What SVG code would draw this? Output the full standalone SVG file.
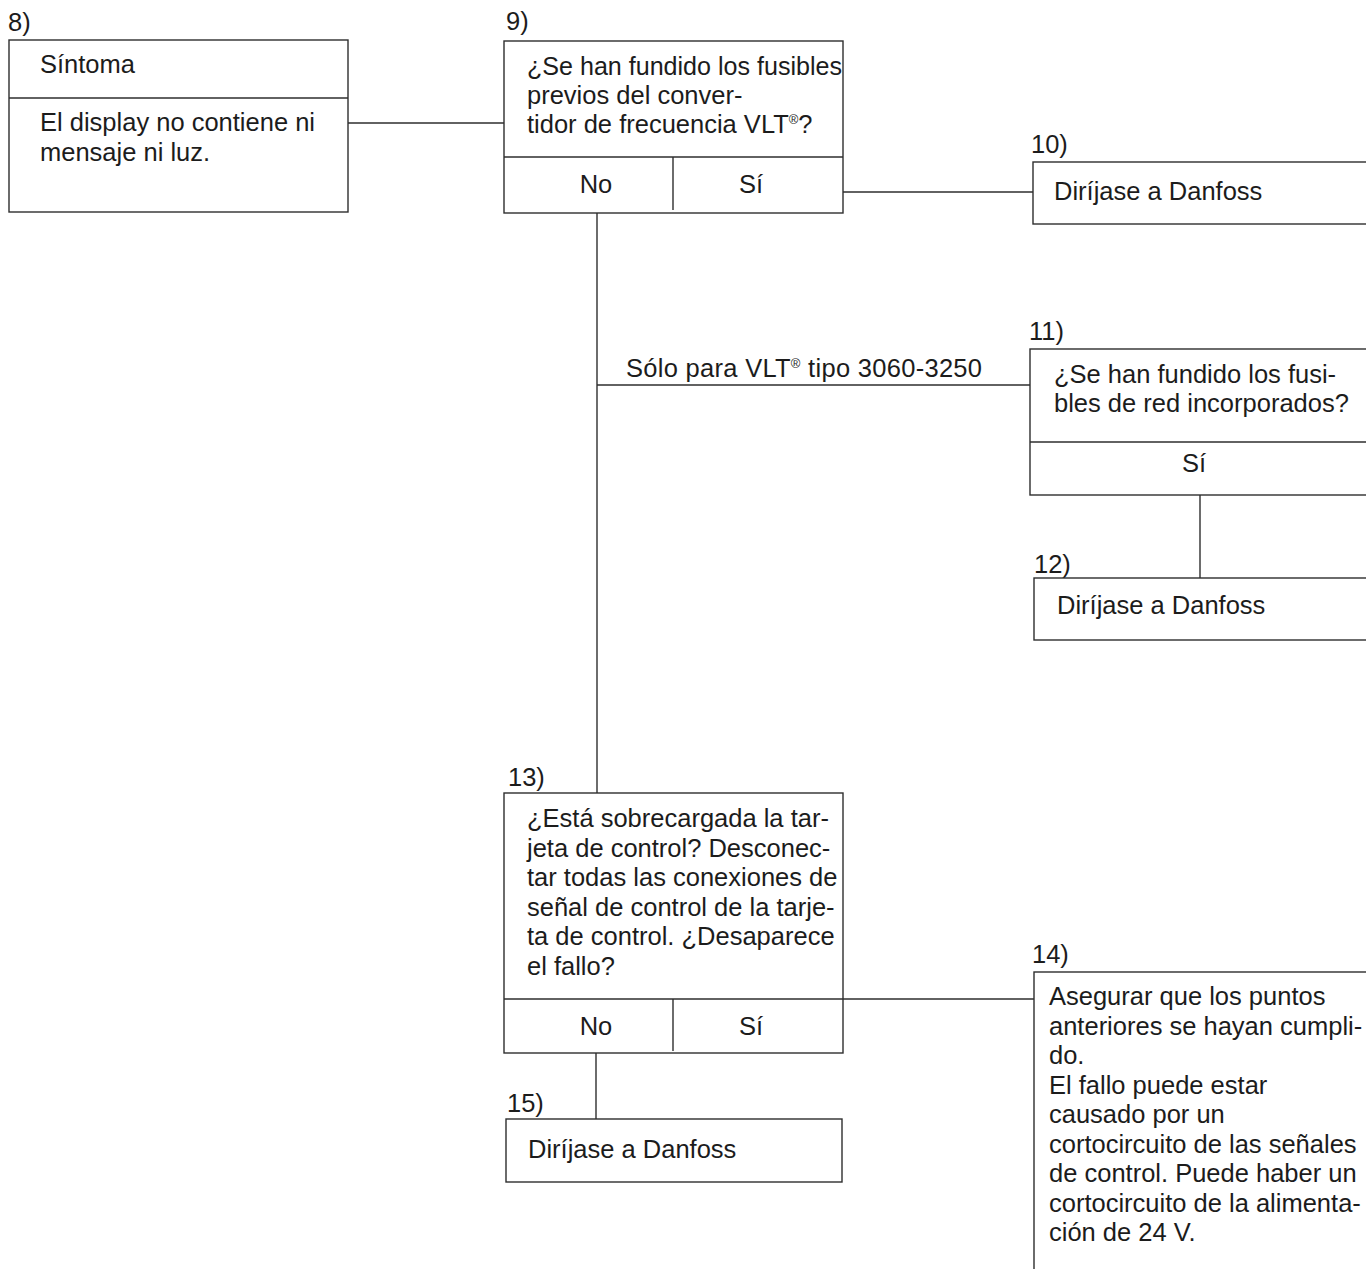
<svg xmlns="http://www.w3.org/2000/svg" width="1366" height="1269" viewBox="0 0 1366 1269">
  <style>
    text { font-family: "Liberation Sans", Arial, Helvetica, sans-serif; font-size: 25.5px; fill: #1c1c1c; }
    .box { fill: #ffffff; stroke: #2e2e2e; stroke-width: 1.4; }
    .ln { fill: none; stroke: #2e2e2e; stroke-width: 1.4; }
    .mid { text-anchor: middle; }
    .reg { font-size: 13px; }
  </style>
  <rect width="1366" height="1269" fill="#ffffff"/>

  <!-- connectors -->
  <g id="connectors" class="ln">
    <line x1="348" y1="123" x2="504" y2="123"/>
    <line x1="843" y1="192" x2="1033" y2="192"/>
    <line x1="597" y1="213" x2="597" y2="793"/>
    <line x1="597" y1="385" x2="1030" y2="385"/>
    <line x1="1200" y1="495" x2="1200" y2="578"/>
    <line x1="843" y1="999" x2="1034" y2="999"/>
    <line x1="596" y1="1053" x2="596" y2="1119"/>
  </g>
  <text x="626" y="377" textLength="356">Sólo para VLT<tspan class="reg" dy="-9">®</tspan><tspan dy="9"> tipo 3060-3250</tspan></text>

  <!-- 8) symptom -->
  <g id="n8">
    <text x="8" y="31">8)</text>
    <rect class="box" x="9" y="40" width="339" height="172"/>
    <line class="ln" x1="9" y1="98" x2="348" y2="98"/>
    <text x="40" y="73">Síntoma</text>
    <text x="40" y="131">El display no contiene ni</text>
    <text x="40" y="161">mensaje ni luz.</text>
  </g>

  <!-- 9) pre-fuses question -->
  <g id="n9">
    <text x="506" y="30">9)</text>
    <rect class="box" x="504" y="41" width="339" height="172"/>
    <line class="ln" x1="504" y1="157" x2="843" y2="157"/>
    <line class="ln" x1="673" y1="157" x2="673" y2="210"/>
    <text x="527" y="75" textLength="315" lengthAdjust="spacingAndGlyphs">¿Se han fundido los fusibles</text>
    <text x="527" y="104">previos del conver-</text>
    <text x="527" y="133">tidor de frecuencia VLT<tspan class="reg" dy="-9">®</tspan><tspan dy="9">?</tspan></text>
    <text class="mid" x="596" y="193">No</text>
    <text class="mid" x="751" y="193">Sí</text>
  </g>

  <!-- 10) -->
  <g id="n10">
    <text x="1031" y="153">10)</text>
    <rect class="box" x="1033" y="162" width="340" height="62"/>
    <text x="1054" y="200">Diríjase a Danfoss</text>
  </g>

  <!-- 11) mains fuses question -->
  <g id="n11">
    <text x="1029" y="340">11)</text>
    <rect class="box" x="1030" y="349" width="343" height="146"/>
    <line class="ln" x1="1030" y1="442" x2="1366" y2="442"/>
    <text x="1054" y="383">¿Se han fundido los fusi-</text>
    <text x="1054" y="412">bles de red incorporados?</text>
    <text class="mid" x="1194" y="472">Sí</text>
  </g>

  <!-- 12) -->
  <g id="n12">
    <text x="1034" y="573">12)</text>
    <rect class="box" x="1034" y="578" width="339" height="62"/>
    <text x="1057" y="614">Diríjase a Danfoss</text>
  </g>

  <!-- 13) control card question -->
  <g id="n13">
    <text x="508" y="786">13)</text>
    <rect class="box" x="504" y="793" width="339" height="260"/>
    <line class="ln" x1="504" y1="999" x2="843" y2="999"/>
    <line class="ln" x1="673" y1="999" x2="673" y2="1051"/>
    <text x="527" y="827">¿Está sobrecargada la tar-</text>
    <text x="527" y="856.5">jeta de control? Desconec-</text>
    <text x="527" y="886">tar todas las conexiones de</text>
    <text x="527" y="915.5">señal de control de la tarje-</text>
    <text x="527" y="945">ta de control. ¿Desaparece</text>
    <text x="527" y="974.5">el fallo?</text>
    <text class="mid" x="596" y="1035">No</text>
    <text class="mid" x="751" y="1035">Sí</text>
  </g>

  <!-- 14) -->
  <g id="n14">
    <text x="1032" y="963">14)</text>
    <rect class="box" x="1034" y="972" width="340" height="310"/>
    <text x="1049" y="1005">Asegurar que los puntos</text>
    <text x="1049" y="1034.5">anteriores se hayan cumpli-</text>
    <text x="1049" y="1064">do.</text>
    <text x="1049" y="1093.5">El fallo puede estar</text>
    <text x="1049" y="1123">causado por un</text>
    <text x="1049" y="1152.5">cortocircuito de las señales</text>
    <text x="1049" y="1182">de control. Puede haber un</text>
    <text x="1049" y="1211.5">cortocircuito de la alimenta-</text>
    <text x="1049" y="1241">ción de 24 V.</text>
  </g>

  <!-- 15) -->
  <g id="n15">
    <text x="507" y="1112">15)</text>
    <rect class="box" x="506" y="1119" width="336" height="63"/>
    <text x="528" y="1158">Diríjase a Danfoss</text>
  </g>
</svg>
